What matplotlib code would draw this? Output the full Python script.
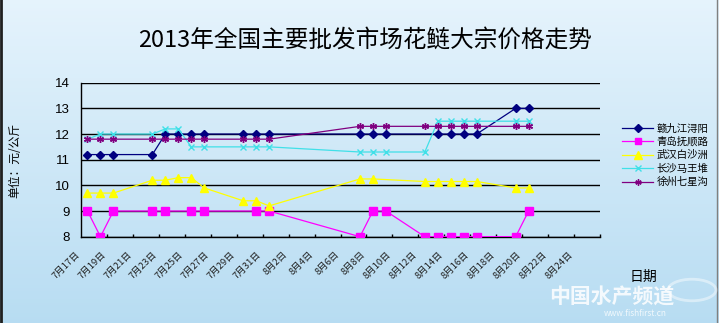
import numpy as np
import matplotlib
matplotlib.use('Agg')
import matplotlib.pyplot as plt
import matplotlib.transforms as mtransforms
from matplotlib.lines import Line2D

plt.rcParams['font.family'] = ['Noto Sans CJK SC', 'DejaVu Sans']

# one category per day, 7/17 .. 8/25
dates = [f'7月{d}日' for d in range(17, 32)] + [f'8月{d}日' for d in range(1, 26)]
n = None

# prices (元/公斤), None = no quote that day
jiujiang = [11.2, 11.2, 11.2, n, n, 11.2, 12, 12, 12, 12, n, n, 12, 12, 12, n, n, n, n, n,
            n, 12, 12, 12, n, n, n, 12, 12, 12, 12, n, n, 13, 13, n, n, n, n, n]
qingdao = [9, 8, 9, n, n, 9, 9, n, 9, 9, n, n, n, 9, 9, n, n, n, n, n,
           n, 8, 9, 9, n, n, 8, 8, 8, 8, 8, n, n, 8, 9, n, n, n, n, n]
wuhan = [9.7, 9.7, 9.7, n, n, 10.2, 10.2, 10.3, 10.3, 9.9, n, n, 9.4, 9.4, 9.2, n, n, n, n, n,
         n, 10.25, 10.25, n, n, n, 10.15, 10.15, 10.15, 10.15, 10.15, n, n, 9.9, 9.9, n, n, n, n, n]
changsha = [11.8, 12, 12, n, n, 12, 12.2, 12.2, 11.5, 11.5, n, n, 11.5, 11.5, 11.5, n, n, n, n, n,
            n, 11.3, 11.3, 11.3, n, n, 11.3, 12.5, 12.5, 12.5, 12.5, n, n, 12.5, 12.5, n, n, n, n, n]
xuzhou = [11.8, 11.8, 11.8, n, n, 11.8, 11.8, 11.8, 11.8, 11.8, n, n, 11.8, 11.8, 11.8, n, n, n, n, n,
          n, 12.3, 12.3, 12.3, n, n, 12.3, 12.3, 12.3, 12.3, 12.3, n, n, 12.3, 12.3, n, n, n, n, n]

series = [
    ('赣九江浔阳', jiujiang, '#000080', 'D', 4.5),
    ('青岛抚顺路', qingdao, '#FF00FF', 's', 5.5),
    ('武汉白沙洲', wuhan, '#FFFF00', '^', 6),
    ('长沙马王堆', changsha, '#40E0E8', 'x', 4.5),
    ('徐州七星沟', xuzhou, '#800080', (6, 2, 0), 5),
]

W, H = 719, 323
fig = plt.figure(figsize=(W / 100, H / 100), dpi=100)

# light blue gradient behind everything
bg = fig.add_axes([0, 0, 1, 1], zorder=-10)
top = np.array([0.90, 0.955, 0.99])
bot = np.array([0.72, 0.865, 0.95])
t = np.linspace(0, 1, 256)[:, None, None]
grad = top * (1 - t) + bot * t
bg.imshow(np.repeat(grad, 2, axis=1), aspect='auto', extent=[0, 1, 0, 1])
bg.set_xlim(0, 1)
bg.set_ylim(0, 1)
bg.axis('off')
bg.plot([0.0015, 0.0015], [0, 1], color='#202020', lw=2, transform=bg.transAxes)
bg.plot([0.997, 0.997], [0, 1], color='#808080', lw=1, transform=bg.transAxes)

x0, x1, yt, yb = 81, 600, 82.7, 236.7
ax = fig.add_axes([x0 / W, 1 - yb / H, (x1 - x0) / W, (yb - yt) / H])
ax.set_facecolor('none')

for name, vals, color, marker, ms in series:
    xs = [i for i, v in enumerate(vals) if v is not None]
    ys = [v for v in vals if v is not None]
    ax.plot(xs, ys, color=color, lw=0.9, marker=marker, ms=ms,
            mec=color, mfc=color, mew=1.0, label=name, zorder=3)

ax.set_xlim(-0.5, len(dates) - 0.5)
ax.set_ylim(8, 14)
ax.set_yticks(range(8, 15))
ax.yaxis.grid(True, color='black', lw=1)
ax.set_axisbelow(True)
ax.tick_params(axis='y', length=0, pad=8, labelsize=9.5)
for lab in ax.get_yticklabels():
    lab.set_family(['Liberation Sans', 'DejaVu Sans'])

# tick marks every two days, labels drawn separately
ax.set_xticks(np.arange(1.5, len(dates), 2))
ax.set_xticklabels([])
ax.tick_params(axis='x', direction='in', length=2.5, width=1, color='black')
for s in ['top', 'right']:
    ax.spines[s].set_visible(False)
ax.spines['left'].set_linewidth(1)
ax.spines['bottom'].set_linewidth(1)

lab_trans = mtransforms.blended_transform_factory(ax.transData, ax.transAxes) + \
    mtransforms.ScaledTranslation(-0.06, -0.13, fig.dpi_scale_trans)
for i in range(0, len(dates), 2):
    ax.text(i, 0, dates[i], transform=lab_trans, rotation=45, ha='right', va='top',
            fontsize=6.8, color='#202020')

fig.text(365 / W, 1 - 40 / H, '2013年全国主要批发市场花鲢大宗价格走势',
         ha='center', va='center', fontsize=17, color='black')
fig.text(15 / W, 1 - 160 / H, '单位：元/公斤', rotation=90, ha='center', va='center',
         fontsize=8.5)
fig.text(643 / W, 1 - 277 / H, '日期', ha='center', va='center', fontsize=10)

handles = [Line2D([], [], color=c, lw=0.9, marker=m, ms=ms * 0.9, mec=c, mfc=c)
           for _, _, c, m, ms in series]
fig.legend(handles, [s[0] for s in series], loc='upper left',
           bbox_to_anchor=(617 / W, 1 - 118 / H), frameon=False, fontsize=7.5,
           handlelength=3.0, handletextpad=0.3, labelspacing=0.32, borderpad=0)

# site watermark
fig.text(612 / W, 1 - 297 / H, '中国水产频道', ha='center', va='center', fontsize=15,
         fontweight='bold', color='white', alpha=0.85)
fig.text(635 / W, 1 - 313 / H, 'www.fishfirst.cn', ha='center', va='center',
         fontsize=6, color='white', alpha=0.8)
ring = plt.Circle((692 / W, 1 - 290 / H), 24 / W, transform=fig.transFigure,
                  fill=False, ec='white', lw=2, alpha=0.45)
fig.patches.append(ring)

fig.savefig('out.png', dpi=100)
